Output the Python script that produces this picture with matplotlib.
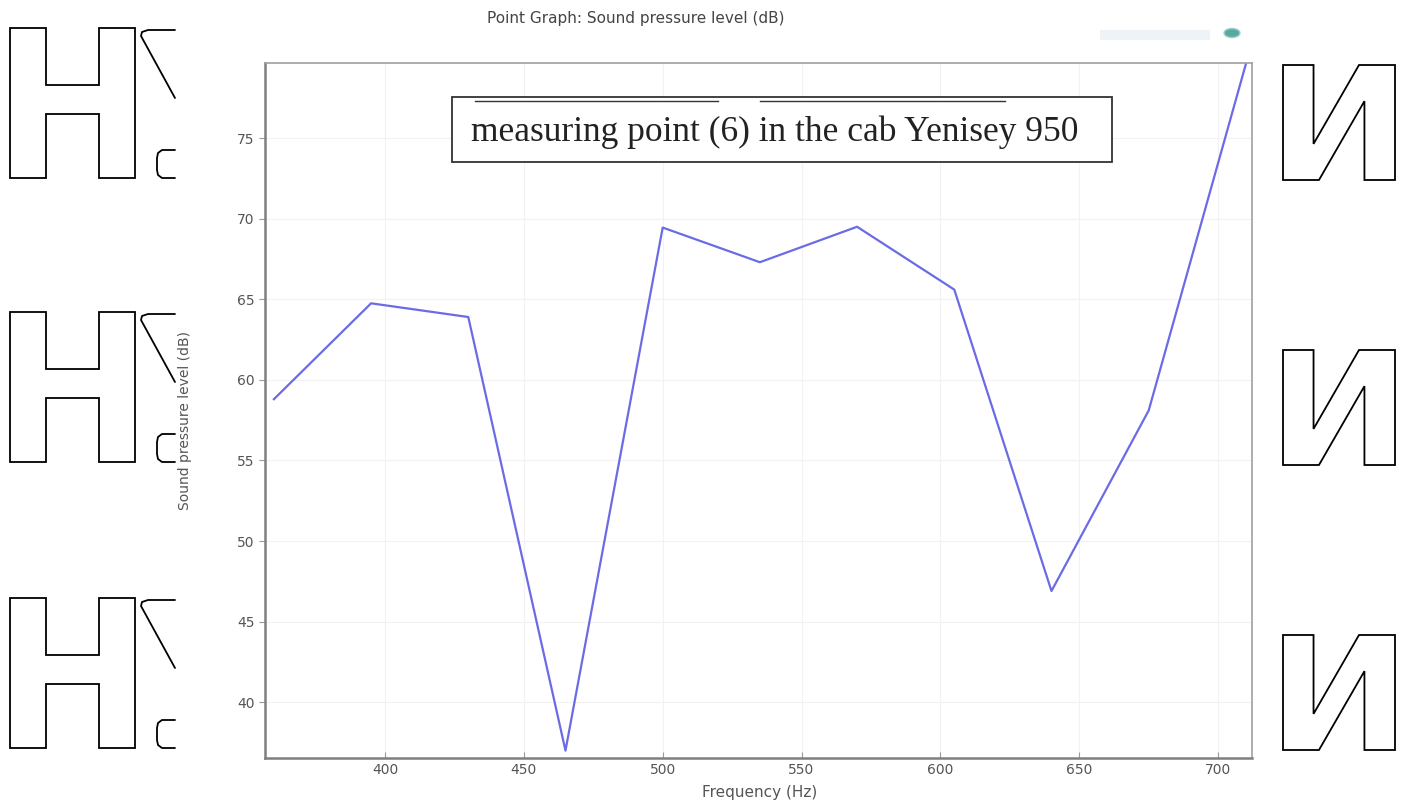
import matplotlib.pyplot as plt
import numpy as np
from matplotlib.textpath import TextPath
from matplotlib.font_manager import FontProperties
from matplotlib.patches import PathPatch, Rectangle, Circle
from matplotlib.transforms import Affine2D
from matplotlib.lines import Line2D

# sound pressure level at the measuring point
freq = [360, 395, 430, 465, 500, 535, 570, 605, 640, 675, 710]
spl = [58.8, 64.75, 63.9, 37.0, 69.45, 67.3, 69.5, 65.6, 46.9, 58.1, 79.6]

x_ticks = [400, 450, 500, 550, 600, 650, 700]
y_ticks = [40, 45, 50, 55, 60, 65, 70, 75]

title = "Point Graph: Sound pressure level (dB)"
x_label = "Frequency (Hz)"
y_label = "Sound pressure level (dB)"
note = "measuring point (6) in the cab Yenisey 950"

W, H = 1406, 802
fig = plt.figure(figsize=(W / 100, H / 100), dpi=100)
fig.patch.set_facecolor("white")


def fx(px):
    return px / W


def fy(py):
    return 1 - py / H


ax = fig.add_axes([fx(265), fy(758), fx(1252) - fx(265), fy(63) - fy(758)])
ax.plot(freq, spl, color="#6b6be6", linewidth=1.6)
ax.set_xlim(356.8, 712.2)
ax.set_ylim(36.54, 79.66)
ax.set_xticks(x_ticks)
ax.set_yticks(y_ticks)
ax.tick_params(axis="both", labelsize=10, labelcolor="#555555", color="#999999", length=4)
ax.tick_params(axis="x", direction="in")
ax.grid(True, color="#f2f2f2", linewidth=0.8)
for side in ["left", "bottom"]:
    ax.spines[side].set_color("#7f7f7f")
    ax.spines[side].set_linewidth(1.8)
for side in ["right", "top"]:
    ax.spines[side].set_color("#a0a0a0")
    ax.spines[side].set_linewidth(1.2)

fig.text(fx(636), fy(18), title, ha="center", va="center", fontsize=11, color="#444444")
fig.text(fx(760), fy(793), x_label, ha="center", va="center", fontsize=11, color="#555555")
fig.text(fx(185), fy(420), y_label, ha="center", va="center", rotation=90,
         fontsize=10, color="#555555")

# caption box over the plot
fig.add_artist(Rectangle((fx(452), fy(162)), fx(1112) - fx(452), fy(97) - fy(162),
                         transform=fig.transFigure, facecolor="white",
                         edgecolor="#333333", linewidth=1.3))
for x0, x1 in [(475, 718), (760, 1005)]:
    fig.add_artist(Line2D([fx(x0), fx(x1)], [fy(101), fy(101)],
                          transform=fig.transFigure, color="#333333", linewidth=1.0))
fig.text(fx(775), fy(132), note, ha="center", va="center", fontsize=25.5,
         family="Liberation Serif", color="#222222")

# toolbar icon in the corner
fig.add_artist(Circle((fx(1232), fy(33)), 8 / W, transform=fig.transFigure,
                      facecolor="#5aa9a0", edgecolor="#9fd4cc", linewidth=1.0))
fig.add_artist(Rectangle((fx(1100), fy(40)), fx(110), 10 / H, transform=fig.transFigure,
                         facecolor="#eef3f7", edgecolor="none"))

# outlined letters along the margins
bold = FontProperties(family="DejaVu Sans", weight="bold")


def outline_glyph(ch, x0, y0, x1, y1):
    path = TextPath((0, 0), ch, size=100, prop=bold)
    ext = path.get_extents()
    sx = (fx(x1) - fx(x0)) / ext.width
    sy = (fy(y0) - fy(y1)) / ext.height
    tr = Affine2D().translate(-ext.x0, -ext.y0).scale(sx, sy).translate(fx(x0), fy(y1))
    fig.add_artist(PathPatch(tr.transform_path(path), transform=fig.transFigure,
                             facecolor="white", edgecolor="black", linewidth=1.3))


def stroke(pts):
    xs = [fx(p[0]) for p in pts]
    ys = [fy(p[1]) for p in pts]
    fig.add_artist(Line2D(xs, ys, transform=fig.transFigure, color="black",
                          linewidth=1.3, solid_capstyle="round"))


for top in [28, 312, 598]:
    outline_glyph("Н", 10, top, 135, top + 150)
    # cut-off pieces of the neighbouring letters
    stroke([(175, top + 2), (148, top + 2), (142, top + 4), (141, top + 8), (175, top + 70)])
    stroke([(175, top + 122), (162, top + 122), (158, top + 125), (157, top + 130),
            (157, top + 142), (158, top + 147), (162, top + 150), (175, top + 150)])

for top in [65, 350, 635]:
    outline_glyph("И", 1283, top, 1395, top + 115)

fig.savefig("out.png", dpi=100, facecolor="white")
